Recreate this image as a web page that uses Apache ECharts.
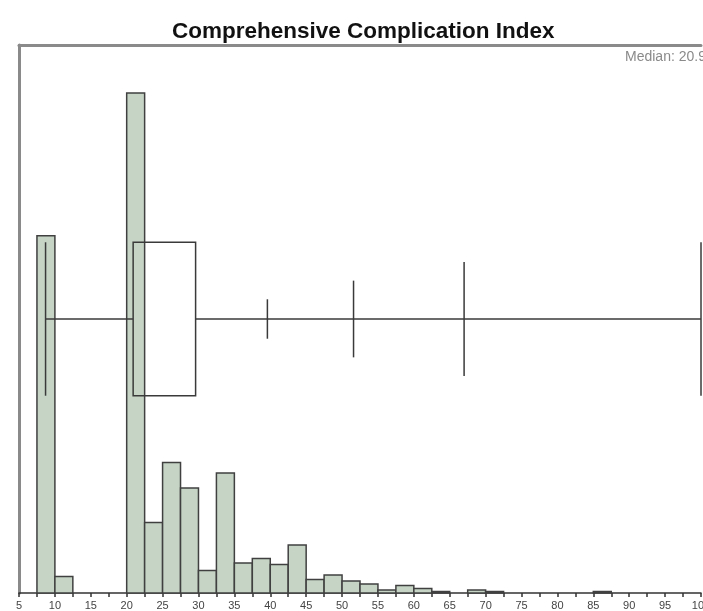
<!DOCTYPE html>
<html>
<head>
<meta charset="utf-8">
<script src="https://cdn.jsdelivr.net/npm/echarts@6/dist/echarts.min.js"></script>
<style>
html,body{margin:0;padding:0;background:#fff;}
#chart{width:703px;height:611px;}
</style>
</head>
<body>
<div id="chart"></div>
<script>
// ---- data ----
const titleText = 'Comprehensive Complication Index';
const medianLabel = 'Median: 20.9';
const binWidth = 2.5;
const binStarts = [7.5, 10, 20, 22.5, 25, 27.5, 30, 32.5, 35, 37.5, 40, 42.5, 45, 47.5, 50, 52.5, 55, 57.5, 60, 62.5, 67.5, 70, 85];
const binCounts = [238, 11, 333, 47, 87, 70, 15, 80, 20, 23, 19, 32, 9, 12, 8, 6, 2, 5, 3, 1, 2, 1, 1];
const boxMin = 8.7;
const boxQ1 = 20.9;
const boxQ3 = 29.6;
const boxMax = 100;
const percentileMarks = [39.6, 51.6, 67.0];
const xTicks = [5, 10, 15, 20, 25, 30, 35, 40, 45, 50, 55, 60, 65, 70, 75, 80, 85, 90, 95, 100];

// ---- chart ----
const chart = echarts.init(document.getElementById('chart'), null, {renderer: 'canvas'});
const FONT = 'Liberation Sans, Arial, Helvetica, sans-serif';
const markHalf = [3.6, 7, 10.4];
const boxHalf = 14;
const lineStyle = {stroke: '#3a3a3a', lineWidth: 1.5, fill: null};

const histData = binStarts.map((s, i) => [s, binCounts[i]]);

option = {
  backgroundColor: '#fff',
  animation: false,
  title: {
    text: titleText, left: 167, top: 15,
    textStyle: {fontFamily: FONT, fontWeight: 'bold', fontSize: 22.5, color: '#111'}
  },
  graphic: [{
    type: 'text', left: 625, top: 50,
    style: {text: medianLabel, fill: '#8a8a8a', font: '14px ' + FONT}
  }],
  grid: {left: 19, right: 2, top: 45, bottom: 18, containLabel: false, outerBoundsMode: 'none'},
  xAxis: [{
    type: 'value', min: xTicks[0], max: xTicks[xTicks.length - 1], interval: 5,
    position: 'bottom',
    axisLine: {show: true, lineStyle: {color: '#333', width: 1.5}},
    axisTick: {show: true, length: 4, lineStyle: {color: '#333', width: 1.5}},
    minorTick: {show: true, splitNumber: 2, length: 4, lineStyle: {color: '#333', width: 1.5}},
    axisLabel: {fontFamily: FONT, fontSize: 11, color: '#444', margin: 7, showMinLabel: true, showMaxLabel: true},
    splitLine: {show: false}
  }, {
    type: 'value', min: xTicks[0], max: xTicks[xTicks.length - 1], position: 'top',
    axisLine: {show: true, onZero: false, lineStyle: {color: '#8a8a8a', width: 3}},
    axisTick: {show: false}, axisLabel: {show: false}, splitLine: {show: false}
  }],
  yAxis: [{
    type: 'value', min: 0, max: 365,
    axisLine: {show: true, onZero: false, lineStyle: {color: '#8a8a8a', width: 3}},
    axisTick: {show: false}, axisLabel: {show: false}, splitLine: {show: false}
  }, {
    type: 'value', min: 0, max: 100, show: false
  }],
  series: [{
    type: 'custom',
    xAxisIndex: 0, yAxisIndex: 0,
    data: histData,
    renderItem: function (params, api) {
      const x0 = api.value(0), c = api.value(1);
      const p0 = api.coord([x0, 0]);
      const p1 = api.coord([x0 + binWidth, c]);
      return {
        type: 'rect',
        shape: {x: p0[0], y: p1[1], width: p1[0] - p0[0], height: p0[1] - p1[1]},
        style: {fill: '#c5d4c5', stroke: '#404040', lineWidth: 1.5}
      };
    }
  }, {
    type: 'custom',
    xAxisIndex: 0, yAxisIndex: 1,
    data: [[boxMin, boxQ1, boxQ3, boxMax]],
    renderItem: function (params, api) {
      const mn = api.value(0), q1 = api.value(1), q3 = api.value(2), mx = api.value(3);
      const mid = 50;
      const c = (x, y) => api.coord([x, y]);
      const line = (a, b) => ({type: 'line', shape: {x1: a[0], y1: a[1], x2: b[0], y2: b[1]}, style: lineStyle});
      const children = [];
      children.push(line(c(mn, mid - boxHalf), c(mn, mid + boxHalf)));
      children.push(line(c(mn, mid), c(q1, mid)));
      const b0 = c(q1, mid + boxHalf), b1 = c(q3, mid - boxHalf);
      children.push({type: 'rect', shape: {x: b0[0], y: b0[1], width: b1[0] - b0[0], height: b1[1] - b0[1]}, style: lineStyle});
      children.push(line(c(q3, mid), c(mx, mid)));
      percentileMarks.forEach((v, i) => {
        children.push(line(c(v, mid - markHalf[i]), c(v, mid + markHalf[i])));
      });
      children.push(line(c(mx, mid - boxHalf), c(mx, mid + boxHalf)));
      return {type: 'group', children: children};
    },
    z: 5
  }]
};
chart.setOption(option);
</script>
</body>
</html>
